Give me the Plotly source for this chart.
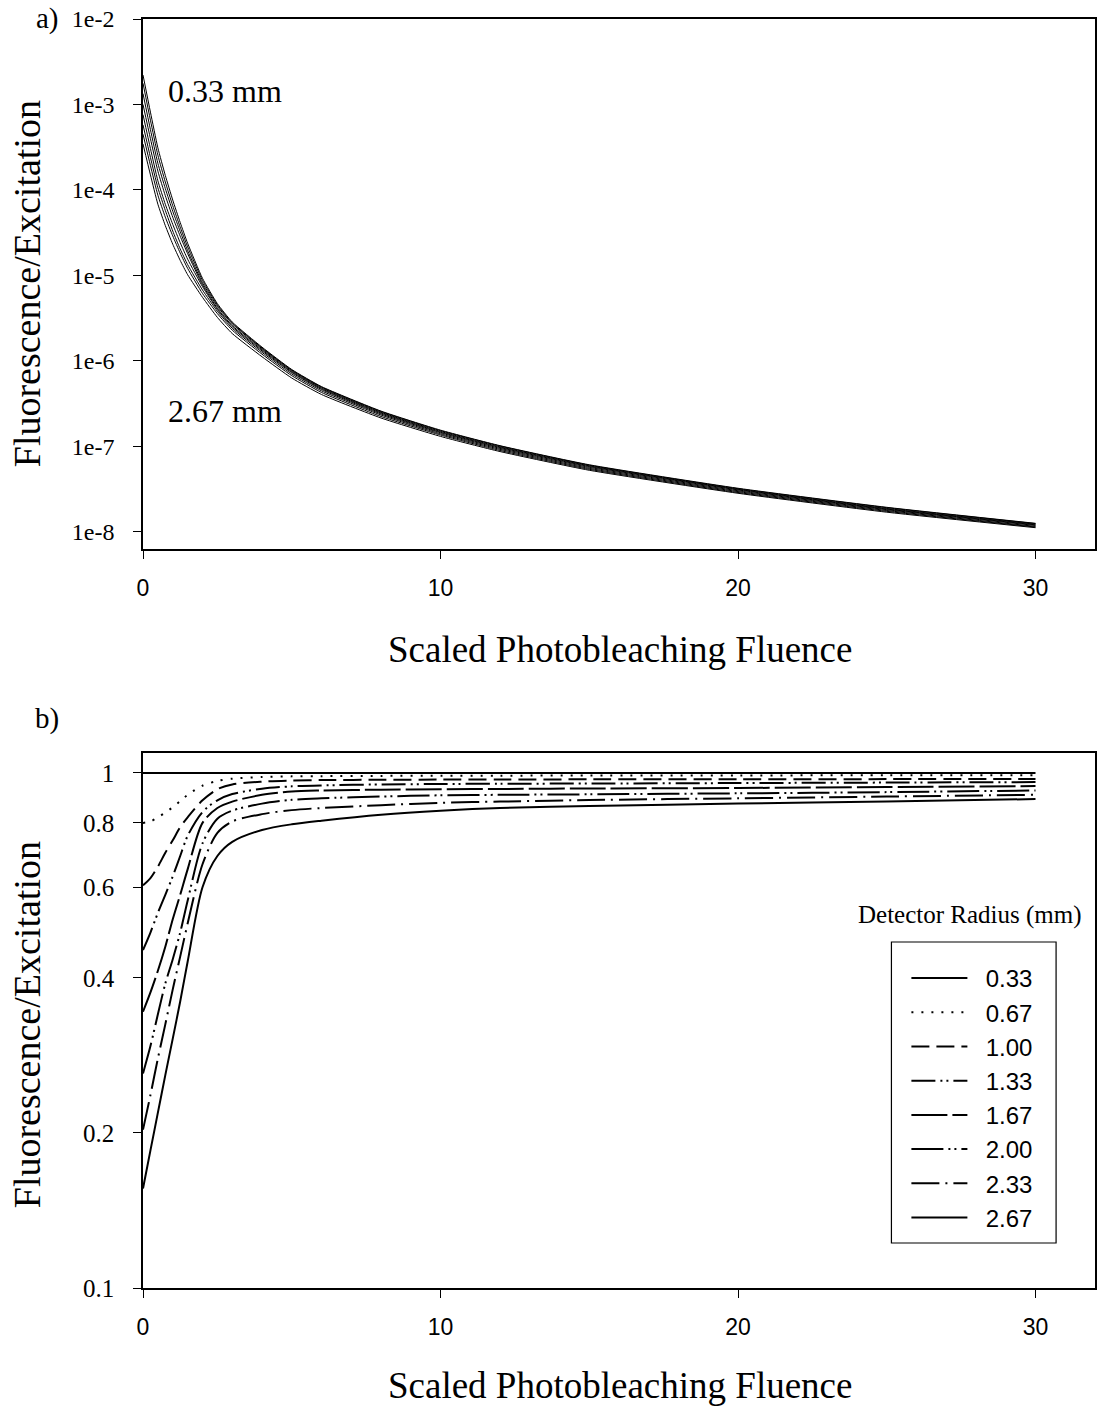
import plotly.graph_objects as go

# ---------------- data ----------------
fluence = [0, 0.25, 0.5, 0.75, 1.0, 1.25, 1.5, 2.0, 2.5, 3.0, 4, 5, 6, 8, 10, 12, 15, 20, 25, 30]
radius_labels = ["0.33", "0.67", "1.00", "1.33", "1.67", "2.00", "2.33", "2.67"]

# panel a) absolute fluorescence/excitation
abs_033 = [2.21e-3, 8.13e-4, 3.11e-4, 1.48e-4, 7.62e-5, 4.17e-5, 2.38e-5, 9.25e-6, 4.68e-6, 2.85e-6,
           1.45e-6, 7.94e-7, 5.01e-7, 2.59e-7, 1.55e-7, 1.02e-7, 6.10e-8, 3.24e-8, 1.94e-8, 1.26e-8]
abs_067 = [1.77e-3, 6.54e-4, 2.55e-4, 1.24e-4, 6.54e-5, 3.68e-5, 2.16e-5, 8.74e-6, 4.52e-6, 2.78e-6,
           1.42e-6, 7.82e-7, 4.94e-7, 2.56e-7, 1.53e-7, 1.01e-7, 6.03e-8, 3.20e-8, 1.92e-8, 1.25e-8]
abs_100 = [1.34e-3, 5.08e-4, 2.05e-4, 1.04e-4, 5.64e-5, 3.27e-5, 1.95e-5, 8.19e-6, 4.35e-6, 2.71e-6,
           1.39e-6, 7.68e-7, 4.85e-7, 2.51e-7, 1.50e-7, 9.89e-8, 5.93e-8, 3.15e-8, 1.88e-8, 1.23e-8]
abs_133 = [1.00e-3, 3.98e-4, 1.66e-4, 8.58e-5, 4.80e-5, 2.88e-5, 1.80e-5, 7.77e-6, 4.14e-6, 2.59e-6,
           1.35e-6, 7.48e-7, 4.74e-7, 2.46e-7, 1.47e-7, 9.71e-8, 5.82e-8, 3.10e-8, 1.85e-8, 1.21e-8]
abs_167 = [7.61e-4, 3.05e-4, 1.28e-4, 6.80e-5, 3.96e-5, 2.42e-5, 1.55e-5, 7.40e-6, 4.00e-6, 2.51e-6,
           1.31e-6, 7.31e-7, 4.63e-7, 2.40e-7, 1.44e-7, 9.49e-8, 5.69e-8, 3.03e-8, 1.82e-8, 1.19e-8]
abs_200 = [5.78e-4, 2.40e-4, 1.06e-4, 5.77e-5, 3.31e-5, 2.04e-5, 1.34e-5, 6.75e-6, 3.81e-6, 2.41e-6,
           1.26e-6, 7.04e-7, 4.47e-7, 2.33e-7, 1.40e-7, 9.24e-8, 5.54e-8, 2.96e-8, 1.78e-8, 1.16e-8]
abs_233 = [4.49e-4, 1.93e-4, 8.68e-5, 4.81e-5, 2.90e-5, 1.83e-5, 1.21e-5, 6.15e-6, 3.58e-6, 2.29e-6,
           1.20e-6, 6.73e-7, 4.28e-7, 2.24e-7, 1.36e-7, 8.97e-8, 5.40e-8, 2.89e-8, 1.74e-8, 1.14e-8]
abs_267 = [3.45e-4, 1.50e-4, 6.81e-5, 3.83e-5, 2.32e-5, 1.50e-5, 1.02e-5, 5.55e-6, 3.23e-6, 2.09e-6,
           1.12e-6, 6.31e-7, 4.05e-7, 2.15e-7, 1.31e-7, 8.71e-8, 5.26e-8, 2.83e-8, 1.70e-8, 1.12e-8]

# panel b) normalised fluorescence/excitation
rel_033 = [1.0, 1.0, 1.0, 1.0, 1.0, 1.0, 1.0, 1.0, 1.0, 1.0,
           1.0, 1.0, 1.0, 1.0, 1.0, 1.0, 1.0, 1.0, 1.0, 1.0]
rel_067 = [0.80, 0.805, 0.82, 0.838, 0.858, 0.882, 0.907, 0.945, 0.965, 0.975,
           0.982, 0.985, 0.986, 0.987, 0.988, 0.988, 0.989, 0.989, 0.99, 0.99]
rel_100 = [0.605, 0.625, 0.658, 0.70, 0.74, 0.785, 0.82, 0.885, 0.93, 0.95,
           0.962, 0.967, 0.969, 0.97, 0.971, 0.971, 0.972, 0.972, 0.973, 0.974]
rel_133 = [0.453, 0.49, 0.535, 0.58, 0.63, 0.69, 0.755, 0.84, 0.885, 0.91,
           0.932, 0.942, 0.946, 0.95, 0.952, 0.953, 0.954, 0.956, 0.958, 0.96]
rel_167 = [0.344, 0.375, 0.413, 0.46, 0.52, 0.58, 0.65, 0.80, 0.855, 0.88,
           0.907, 0.921, 0.925, 0.928, 0.93, 0.931, 0.933, 0.935, 0.939, 0.943]
rel_200 = [0.261, 0.295, 0.34, 0.39, 0.435, 0.49, 0.565, 0.73, 0.815, 0.845,
           0.872, 0.887, 0.893, 0.90, 0.905, 0.907, 0.909, 0.913, 0.918, 0.925]
rel_233 = [0.203, 0.237, 0.279, 0.325, 0.38, 0.44, 0.51, 0.665, 0.765, 0.805,
           0.832, 0.847, 0.855, 0.866, 0.875, 0.88, 0.886, 0.893, 0.90, 0.907]
rel_267 = [0.156, 0.185, 0.219, 0.259, 0.305, 0.36, 0.43, 0.60, 0.69, 0.735,
           0.775, 0.795, 0.808, 0.83, 0.845, 0.855, 0.863, 0.872, 0.88, 0.89]

top_ticks = [1e-8, 1e-7, 1e-6, 1e-5, 1e-4, 1e-3, 1e-2]
top_ticktext = ["1e-8", "1e-7", "1e-6", "1e-5", "1e-4", "1e-3", "1e-2"]
bot_ticks = [0.1, 0.2, 0.4, 0.6, 0.8, 1]
bot_ticktext = ["0.1", "0.2", "0.4", "0.6", "0.8", "1"]
x_ticks = [0, 10, 20, 30]

abs_series = [abs_033, abs_067, abs_100, abs_133, abs_167, abs_200, abs_233, abs_267]
rel_series = [rel_033, rel_067, rel_100, rel_133, rel_167, rel_200, rel_233, rel_267]

# ---------------- style ----------------
dashes = ["solid", "2px,8px", "18px,7px", "24px,5px,2px,4px,2px,5px", "36px,5px",
          "32px,5px,2px,4px,2px,5px", "28px,6px,2px,6px", "solid"]
SERIF = "Liberation Serif, Times New Roman, serif"
SANS = "Liberation Sans, Arial, sans-serif"

W, H = 1100, 1406
L, R, T, B = 143, 3, 19, 118
PW = W - L - R
PH = H - T - B


def px(xp):
    return (xp - L) / PW


def py(yp):
    return (H - B - yp) / PH


fig = go.Figure()
for lab, ys in zip(radius_labels, abs_series):
    fig.add_trace(go.Scatter(x=fluence, y=ys, mode="lines", name=lab, showlegend=False,
                             line=dict(color="black", width=1, shape="spline", smoothing=0.5),
                             xaxis="x", yaxis="y"))
for lab, ys, d in zip(radius_labels, rel_series, dashes):
    fig.add_trace(go.Scatter(x=fluence, y=ys, mode="lines", name="\u00a0\u00a0" + lab,
                             line=dict(color="black", width=2, dash=d, shape="spline", smoothing=0.8),
                             xaxis="x2", yaxis="y2"))

axis_common = dict(showline=True, linecolor="black", linewidth=1.5, mirror=True,
                   ticks="outside", ticklen=8, tickcolor="black", tickwidth=1,
                   showgrid=False, zeroline=False)

fig.update_layout(
    width=W, height=H,
    margin=dict(l=L, r=R, t=T, b=B),
    paper_bgcolor="white", plot_bgcolor="white",
    xaxis=dict(domain=[0, 1], anchor="y", range=[0, 32.0], tickvals=x_ticks,
               tickfont=dict(family=SANS, size=23, color="black"), ticklabelstandoff=10,
               **axis_common),
    yaxis=dict(domain=[py(549), 1], anchor="x", type="log", range=[-8.2, -2],
               tickvals=top_ticks, ticktext=top_ticktext,
               tickfont=dict(family=SERIF, size=24, color="black"), ticklabelstandoff=14,
               **axis_common),
    xaxis2=dict(domain=[0, 1], anchor="y2", range=[0, 32.0], tickvals=x_ticks,
                tickfont=dict(family=SANS, size=23, color="black"), ticklabelstandoff=10,
                **axis_common),
    yaxis2=dict(domain=[0, py(753)], anchor="x2", type="log", range=[-1, 0.0388],
                tickvals=bot_ticks, ticktext=bot_ticktext,
                tickfont=dict(family=SERIF, size=25, color="black"), ticklabelstandoff=14,
                **axis_common),
    legend=dict(x=px(908), y=py(956), xanchor="left", yanchor="top",
                font=dict(family=SANS, size=24, color="black"), itemwidth=56,
                borderwidth=0, bgcolor="rgba(0,0,0,0)", tracegroupgap=0),
    showlegend=True,
)

# legend frame
fig.add_shape(type="rect", xref="paper", yref="paper",
              x0=px(893), x1=px(1058), y0=py(1243), y1=py(942),
              line=dict(color="black", width=1.2), fillcolor="rgba(0,0,0,0)")

annos = [
    dict(text="a)", x=px(47), y=py(18), font=dict(family=SERIF, size=29)),
    dict(text="b)", x=px(47), y=py(718), font=dict(family=SERIF, size=29)),
    dict(text="0.33 mm", x=px(166), y=py(91), xanchor="left", font=dict(family=SERIF, size=32)),
    dict(text="2.67 mm", x=px(166), y=py(411), xanchor="left", font=dict(family=SERIF, size=32)),
    dict(text="Fluorescence/Excitation", x=px(27), y=py(284), textangle=-90,
         font=dict(family=SERIF, size=38)),
    dict(text="Fluorescence/Excitation", x=px(27), y=py(1025), textangle=-90,
         font=dict(family=SERIF, size=38)),
    dict(text="Scaled Photobleaching Fluence", x=px(621), y=py(649),
         font=dict(family=SERIF, size=37)),
    dict(text="Scaled Photobleaching Fluence", x=px(621), y=py(1386),
         font=dict(family=SERIF, size=37)),
    dict(text="Detector Radius (mm)", x=px(972), y=py(915), font=dict(family=SERIF, size=25)),
]
for a in annos:
    base = dict(xref="paper", yref="paper", showarrow=False, xanchor="center", yanchor="middle")
    base.update(a)
    base["font"] = dict(color="black", **a["font"])
    fig.add_annotation(**base)

fig.write_html("out.html")
